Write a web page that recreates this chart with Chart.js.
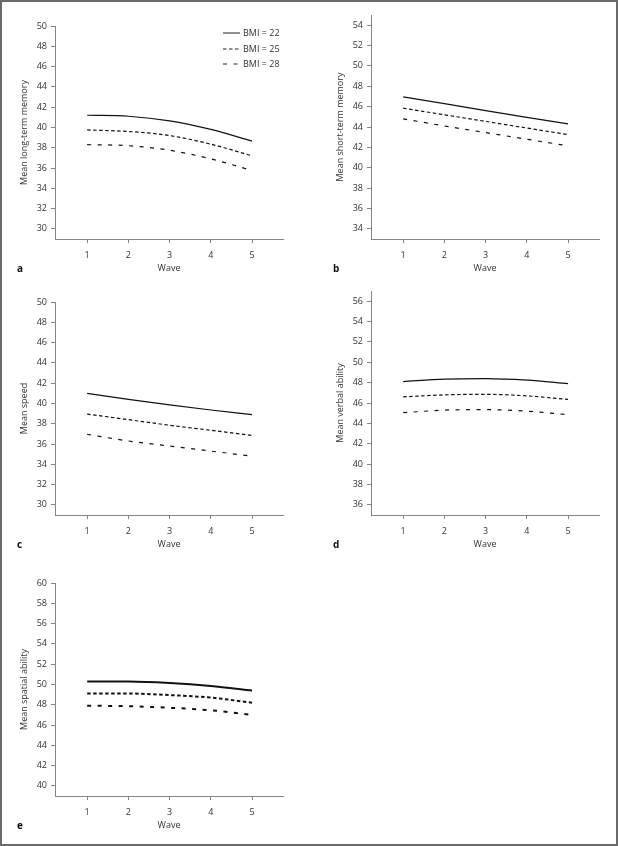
<!DOCTYPE html>
<html>
<head>
<meta charset="utf-8">
<script src="https://cdn.jsdelivr.net/npm/chart.js@4/dist/chart.umd.min.js"></script>
<style>
  body { margin: 0; background: #fff; }
  #page { position: relative; width: 618px; height: 846px; box-sizing: border-box; border: 2px solid #6a6a6a; overflow: hidden; }
  .panel { position: absolute; width: 309px; height: 285px; }
  .panel canvas { position: absolute; left: 0; top: 0; }
  .letter { position: absolute; left: 17px; top: 261px; font: bold 10px "Open Sans", sans-serif; color: #111; }
  .legend-row { position: absolute; left: 223px; height: 12px; font: 9px "Open Sans", sans-serif; color: #333; white-space: nowrap; }
  .legend-row svg { position: absolute; left: 0; top: 5px; }
  .legend-row span { position: absolute; left: 20px; top: -1px; }
</style>
</head>
<body>
<div id="page">
  <div class="panel" style="left:-2px;top:-2px"><canvas id="chart-a" width="309" height="285"></canvas><div class="letter">a</div><div id="legend"></div></div>
  <div class="panel" style="left:314px;top:-2px"><canvas id="chart-b" width="309" height="285"></canvas><div class="letter">b</div></div>
  <div class="panel" style="left:-2px;top:274px"><canvas id="chart-c" width="309" height="285"></canvas><div class="letter">c</div></div>
  <div class="panel" style="left:314px;top:274px"><canvas id="chart-d" width="309" height="285"></canvas><div class="letter">d</div></div>
  <div class="panel" style="left:-2px;top:555px"><canvas id="chart-e" width="309" height="285"></canvas><div class="letter">e</div></div>
</div>
<script>
// Valores
const waves = [1, 2, 3, 4, 5];
const bmiLabels = ['BMI = 22', 'BMI = 25', 'BMI = 28'];
const bmiDashes = [[], [3.5, 2.5], [4, 6.5]];

// a - memória de longo prazo
const longTermTicks = [30, 32, 34, 36, 38, 40, 42, 44, 46, 48, 50];
const longTerm22 = [41.2, 41.1, 40.65, 39.8, 38.65];
const longTerm25 = [39.75, 39.6, 39.2, 38.35, 37.2];
const longTerm28 = [38.3, 38.2, 37.75, 36.9, 35.75];

// b - memória de curto prazo
const shortTermTicks = [34, 36, 38, 40, 42, 44, 46, 48, 50, 52, 54];
const shortTerm22 = [46.95, 46.3, 45.6, 44.95, 44.3];
const shortTerm25 = [45.85, 45.2, 44.55, 43.9, 43.25];
const shortTerm28 = [44.8, 44.1, 43.45, 42.8, 42.15];

// c - velocidade
const speedTicks = [30, 32, 34, 36, 38, 40, 42, 44, 46, 48, 50];
const speed22 = [41.0, 40.4, 39.85, 39.35, 38.9];
const speed25 = [38.95, 38.4, 37.85, 37.35, 36.85];
const speed28 = [36.95, 36.3, 35.8, 35.3, 34.8];

// d - habilidade verbal
const verbalTicks = [36, 38, 40, 42, 44, 46, 48, 50, 52, 54, 56];
const verbal22 = [48.1, 48.35, 48.4, 48.25, 47.9];
const verbal25 = [46.6, 46.8, 46.85, 46.7, 46.35];
const verbal28 = [45.05, 45.3, 45.35, 45.2, 44.85];

// e - habilidade espacial
const spatialTicks = [40, 42, 44, 46, 48, 50, 52, 54, 56, 58, 60];
const spatial22 = [50.3, 50.3, 50.15, 49.85, 49.4];
const spatial25 = [49.1, 49.1, 48.95, 48.7, 48.2];
const spatial28 = [47.9, 47.85, 47.7, 47.45, 47.0];

const axisColor = '#858585';
const textColor = '#333';
const baseFont = { family: '"Open Sans", sans-serif', size: 9 };

// Monta um painel com três linhas de IMC
function makePanel(canvasId, yTitle, yMin, yMax, yTicks, seriesList, lineWidth, topPad) {
  const datasets = seriesList.map((values, i) => ({
    label: bmiLabels[i],
    data: values.map((v, j) => ({ x: waves[j], y: v })),
    borderColor: '#111',
    borderWidth: lineWidth,
    borderDash: bmiDashes[i],
    pointRadius: 0,
    fill: false,
    cubicInterpolationMode: 'monotone',
  }));

  return new Chart(document.getElementById(canvasId), {
    type: 'line',
    data: { datasets },
    options: {
      responsive: false,
      animation: false,
      devicePixelRatio: 1,
      layout: { padding: { left: 0, top: topPad, right: 26, bottom: 0 } },
      plugins: { legend: { display: false }, tooltip: { enabled: false } },
      scales: {
        x: {
          type: 'linear',
          min: 0.22,
          max: 5.75,
          afterBuildTicks: (scale) => { scale.ticks = waves.map((v) => ({ value: v })); },
          afterFit: (scale) => { scale.height = 46; },
          grid: { drawOnChartArea: false, drawTicks: true, tickLength: 4, tickColor: axisColor, tickWidth: 1 },
          border: { display: true, color: axisColor, width: 1 },
          ticks: { color: textColor, font: baseFont, padding: 7, maxRotation: 0, autoSkip: false },
          title: { display: true, text: 'Wave', color: textColor, font: baseFont, padding: { top: 0, bottom: 11 } },
        },
        y: {
          min: yMin,
          max: yMax,
          afterBuildTicks: (scale) => { scale.ticks = yTicks.map((v) => ({ value: v })); },
          afterFit: (scale) => { scale.width = 55; },
          grid: { drawOnChartArea: false, drawTicks: true, tickLength: 4, tickColor: axisColor, tickWidth: 1 },
          border: { display: true, color: axisColor, width: 1 },
          ticks: { color: textColor, font: baseFont, padding: 4 },
          title: { display: true, text: yTitle, color: textColor, font: baseFont, padding: { top: 19, bottom: 0 } },
        },
      },
    },
  });
}

makePanel('chart-a', 'Mean long-term memory', 29, 50, longTermTicks, [longTerm22, longTerm25, longTerm28], 1.2, 26);
makePanel('chart-b', 'Mean short-term memory', 33, 55, shortTermTicks, [shortTerm22, shortTerm25, shortTerm28], 1.2, 15);
makePanel('chart-c', 'Mean speed', 29, 50, speedTicks, [speed22, speed25, speed28], 1.2, 26);
makePanel('chart-d', 'Mean verbal ability', 35, 57, verbalTicks, [verbal22, verbal25, verbal28], 1.2, 15);
makePanel('chart-e', 'Mean spatial ability', 39, 60, spatialTicks, [spatial22, spatial25, spatial28], 2, 26);

// Legenda do painel a
const legendEl = document.getElementById('legend');
bmiLabels.forEach((label, i) => {
  const row = document.createElement('div');
  row.className = 'legend-row';
  row.style.top = (27 + i * 15.6) + 'px';
  const dash = bmiDashes[i].length ? bmiDashes[i].join(',') : 'none';
  row.innerHTML =
    '<svg width="17" height="2"><line x1="0" y1="1" x2="17" y2="1" stroke="#222" stroke-width="1" stroke-dasharray="' +
    dash + '"/></svg><span>' + label + '</span>';
  legendEl.appendChild(row);
});
</script>
</body>
</html>
